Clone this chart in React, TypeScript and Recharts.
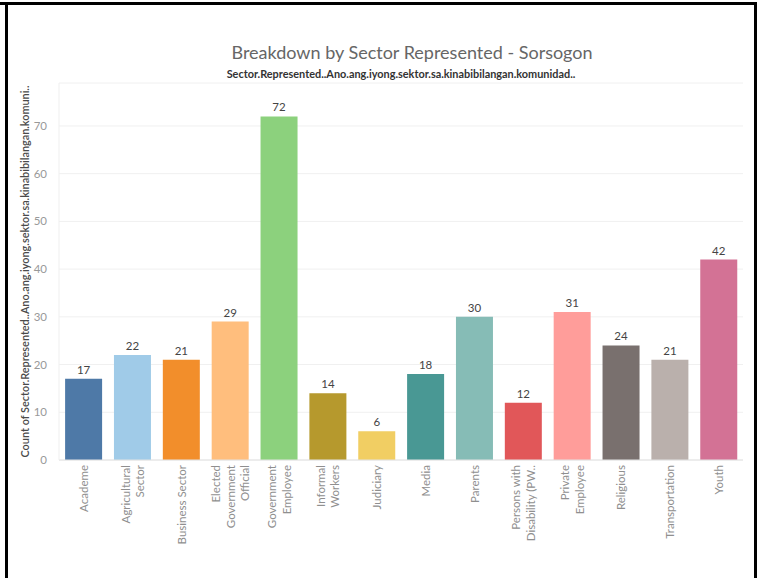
import React from 'react';
import {
  BarChart,
  Bar,
  XAxis,
  YAxis,
  CartesianGrid,
  Cell,
  LabelList,
  Label,
} from 'recharts';

// data
const sectors = [
  'Academe',
  'Agricultural\nSector',
  'Business Sector',
  'Elected\nGovernment\nOfficial',
  'Government\nEmployee',
  'Informal\nWorkers',
  'Judiciary',
  'Media',
  'Parents',
  'Persons with\nDisability (PW..',
  'Private\nEmployee',
  'Religious',
  'Transportation',
  'Youth',
];
const counts = [17, 22, 21, 29, 72, 14, 6, 18, 30, 12, 31, 24, 21, 42];
const colors = [
  '#4E79A7', '#A0CBE8', '#F28E2B', '#FFBE7D', '#8CD17D', '#B6992D', '#F1CE63',
  '#499894', '#86BCB6', '#E15759', '#FF9D9A', '#79706E', '#BAB0AC', '#D37295',
];
const yTicks = [0, 10, 20, 30, 40, 50, 60, 70];

const title = 'Breakdown by Sector Represented - Sorsogon';
const subtitle = 'Sector.Represented..Ano.ang.iyong.sektor.sa.kinabibilangan.komunidad..';
const yTitle = 'Count of Sector.Represented..Ano.ang.iyong.sektor.sa.kinabibilangan.komuni..';

const data = sectors.map((s, i) => ({ sector: s, count: counts[i] }));

const FONT = 'Lato, "Open Sans", sans-serif';

const SectorTick = (props: any) => {
  const { x, y, payload } = props;
  const lines: string[] = String(payload.value).split('\n');
  const step = 14.5;
  return (
    <g transform={`translate(${x},${y})`}>
      {lines.map((line, i) => (
        <text
          key={i}
          transform="rotate(-90)"
          x={-3}
          y={(i - (lines.length - 1) / 2) * step}
          textAnchor="end"
          dominantBaseline="central"
          fill="#8f8f8f"
          fontSize={11.5}
          fontFamily={FONT}
        >
          {line}
        </text>
      ))}
    </g>
  );
};

const YTitle = (props: any) => {
  const vb = props.viewBox || {};
  const cx = 25;
  const cy = (vb.y ?? 83) + (vb.height ?? 377) / 2;
  return (
    <text
      x={cx}
      y={cy}
      transform={`rotate(-90, ${cx}, ${cy})`}
      textAnchor="middle"
      dominantBaseline="central"
      fill="#4a4a4a"
      fontSize={10.5}
      fontWeight={600}
      fontFamily={FONT}
      textLength={372}
      lengthAdjust="spacingAndGlyphs"
    >
      {yTitle}
    </text>
  );
};

export default function App() {
  return (
    <div
      style={{
        position: 'relative',
        width: 762,
        height: 578,
        overflow: 'hidden',
        background: '#fff',
        fontFamily: FONT,
      }}
    >
      <style>{'body{margin:0}'}</style>
      {/* frame */}
      <div style={{ position: 'absolute', left: 0, top: 2, width: 8, height: 3, background: '#000' }} />
      <div
        style={{
          position: 'absolute',
          left: 5,
          top: 2,
          width: 752,
          height: 700,
          border: '3px solid #000',
          boxSizing: 'border-box',
        }}
      />
      <div
        style={{
          position: 'absolute',
          left: 0,
          width: 824,
          top: 41,
          textAlign: 'center',
          fontSize: 18,
          lineHeight: '22px',
          color: '#666',
        }}
      >
        {title}
      </div>
      <div
        style={{
          position: 'absolute',
          left: 0,
          width: 802,
          top: 67,
          textAlign: 'center',
          fontSize: 10.9,
          fontWeight: 700,
          lineHeight: '13px',
          color: '#333',
        }}
      >
        {subtitle}
      </div>
      <div style={{ position: 'absolute', left: 0, top: 0 }}>
        <BarChart
          width={762}
          height={578}
          data={data}
          margin={{ top: 83, right: 19, bottom: 0, left: 0 }}
          barCategoryGap="12.5%"
        >
          <CartesianGrid vertical={false} stroke="#f0f0f0" />
          <XAxis
            dataKey="sector"
            interval={0}
            height={118}
            tick={<SectorTick />}
            tickLine={false}
            tickSize={0}
            axisLine={{ stroke: '#e2e2e2' }}
          />
          <YAxis
            width={59}
            domain={[0, 79]}
            ticks={yTicks}
            tickLine={false}
            axisLine={{ stroke: '#efefef' }}
            tickMargin={6}
            tick={{ fill: '#999', fontSize: 11.5, fontFamily: FONT }}
          >
            <Label content={<YTitle />} />
          </YAxis>
          <Bar dataKey="count" isAnimationActive={false}>
            {data.map((d, i) => (
              <Cell key={d.sector} fill={colors[i]} />
            ))}
            <LabelList
              dataKey="count"
              position="top"
              offset={5}
              fill="#444"
              fontSize={11.5}
              fontFamily={FONT}
            />
          </Bar>
        </BarChart>
      </div>
    </div>
  );
}
